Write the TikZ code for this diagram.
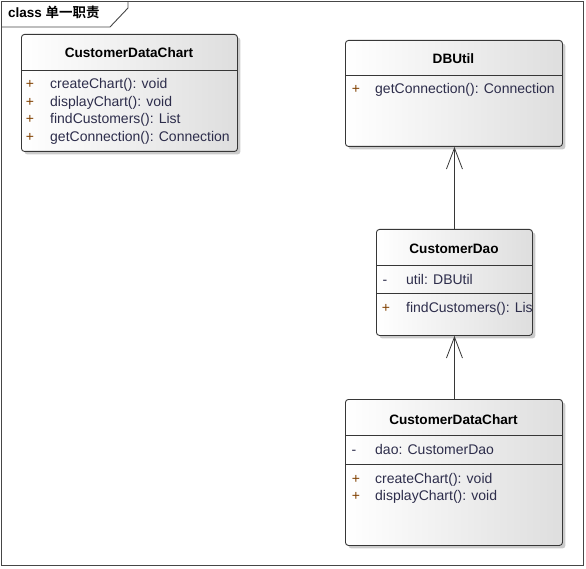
\documentclass[tikz,border=0pt]{standalone}
\usepackage{fontspec}
\setmainfont{Liberation Sans}
\newfontfamily\cjkbold[BoldFont={Noto Sans CJK SC Bold}]{Noto Sans CJK SC}
\usetikzlibrary{arrows.meta,shadows}

\definecolor{boxline}{RGB}{55,55,55}
\definecolor{boxgray}{RGB}{222,222,222}
\definecolor{shadowgray}{RGB}{190,190,190}
\definecolor{membertext}{RGB}{45,45,75}
\definecolor{visbrown}{RGB}{128,64,0}
\definecolor{framegray}{RGB}{70,70,70}

\tikzset{
  umlbox/.style={draw=boxline, line width=0.9pt, rounded corners=3pt,
    left color=white, right color=boxgray, anchor=north west, inner sep=0pt,
    drop shadow={shadow xshift=3pt, shadow yshift=-3pt, fill=shadowgray, opacity=0.8}},
  cname/.style={anchor=base, inner sep=0pt, text=black,
    font=\fontsize{13.6}{16}\selectfont\bfseries},
  member/.style={anchor=base west, inner sep=0pt, text=membertext,
    font=\fontsize{14}{16}\selectfont},
  vis/.style={anchor=base, inner sep=0pt, text=visbrown,
    font=\fontsize{14}{16}\selectfont},
  hidden/.style={vis, text=membertext},
  divider/.style={draw=boxline, line width=0.9pt},
  inherit/.style={draw=boxline, line width=0.8pt,
    -{Straight Barb[length=21pt,width=16pt,line width=0.8pt]}},
}

\begin{document}
\begin{tikzpicture}[x=1pt,y=-1pt]
\useasboundingbox (0,0) rectangle (586,569);

% diagram frame and title tab
\draw[framegray, line width=0.9pt] (1.5,1.5) rectangle (583,565.5);
\draw[framegray, line width=0.9pt] (1.5,27) -- (110,27) -- (128,8) -- (128,1.5);
\node[anchor=base west, inner sep=0pt, font=\fontsize{13.5}{16}\selectfont\bfseries]
  (title) at (8,18) {class {\cjkbold\bfseries 单一职责}};

% CustomerDataChart (all responsibilities in one class)
\node[umlbox, minimum width=216pt, minimum height=117pt] (chartA) at (21,34) {};
\draw[divider] ([yshift=-36pt]chartA.north west) -- ([yshift=-36pt]chartA.north east);
\node[cname] (chartAname) at (129,58) {CustomerDataChart};
\node[vis] (chartAv1) at (30,89) {+};
\node[member] (chartAm1) at (50,89) {createChart(): void};
\node[vis] (chartAv2) at (30,106.5) {+};
\node[member] (chartAm2) at (50,106.5) {displayChart(): void};
\node[vis] (chartAv3) at (30,124) {+};
\node[member] (chartAm3) at (50,124) {findCustomers(): List};
\node[vis] (chartAv4) at (30,141.5) {+};
\node[member] (chartAm4) at (50,141.5) {getConnection(): Connection};

% DBUtil
\node[umlbox, minimum width=217pt, minimum height=106pt] (dbutil) at (345,40) {};
\draw[divider] ([yshift=-35pt]dbutil.north west) -- ([yshift=-35pt]dbutil.north east);
\node[cname] (dbutilname) at (453.5,64) {DBUtil};
\node[vis] (dbutilv1) at (356,94) {+};
\node[member] (dbutilm1) at (375,94) {getConnection(): Connection};

% CustomerDao
\node[umlbox, minimum width=156pt, minimum height=106pt] (dao) at (376,229) {};
\draw[divider] ([yshift=-36pt]dao.north west) -- ([yshift=-36pt]dao.north east);
\draw[divider] ([yshift=-64pt]dao.north west) -- ([yshift=-64pt]dao.north east);
\node[cname] (daoname) at (454,254) {CustomerDao};
\node[hidden] (daov1) at (385,284) {-};
\node[member] (daoa1) at (406,284) {util: DBUtil};
\node[vis] (daov2) at (386,312) {+};
% the long operation name is cut off by the class border
\begin{scope}
  \clip (dao.north west) rectangle (dao.south east);
  \node[member] (daom1) at (406,312) {findCustomers(): List};
\end{scope}
\draw[boxline, line width=0.9pt] ([yshift=-6pt]dao.north east) -- ([yshift=6pt]dao.south east);

% CustomerDataChart (presentation only)
\node[umlbox, minimum width=217pt, minimum height=146pt] (chartB) at (345,399) {};
\draw[divider] ([yshift=-36pt]chartB.north west) -- ([yshift=-36pt]chartB.north east);
\draw[divider] ([yshift=-65pt]chartB.north west) -- ([yshift=-65pt]chartB.north east);
\node[cname] (chartBname) at (453.5,424) {CustomerDataChart};
\node[hidden] (chartBv1) at (354,454) {-};
\node[member] (chartBa1) at (375,454) {dao: CustomerDao};
\node[vis] (chartBv2) at (356,483) {+};
\node[member] (chartBm1) at (375,483) {createChart(): void};
\node[vis] (chartBv3) at (356,500.5) {+};
\node[member] (chartBm2) at (375,500.5) {displayChart(): void};

% associations
\draw[inherit] (dao.north) -- (dao.north |- dbutil.south);
\draw[inherit] (chartB.north -| dao.north) -- (dao.south);
\end{tikzpicture}
\end{document}
